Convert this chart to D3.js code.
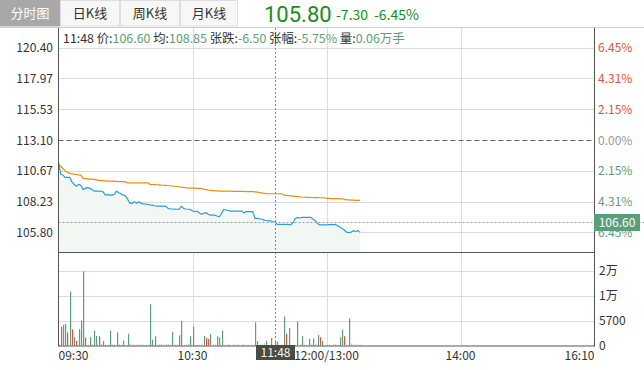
<!DOCTYPE html>
<html><head><meta charset="utf-8">
<script src="https://cdn.jsdelivr.net/npm/d3@7"></script>
<style>
html,body{margin:0;padding:0;background:#fff;}
svg{display:block;font-family:"Noto Sans CJK SC","Noto Sans",sans-serif;}
</style></head>
<body><svg id="c" width="644" height="370"></svg>
<script>
// ---- data ----
const tabs = ["分时图","日K线","周K线","月K线"];
const lastPrice = "105.80", change = "-7.30", changePct = "-6.45%";
const priceTicks = [120.40,117.97,115.53,113.10,110.67,108.23,105.80];
const pctLabels = ["6.45%","4.31%","2.15%","0.00%","2.15%","4.31%","6.45%"];
const prevClose = 113.10;
const timeTicks = [0,60,120,180,240];
const timeLabels = ["09:30","10:30","12:00/13:00","14:00","16:10"];
const volTicks = [0,5700,11400,17100];
const volLabels = ["0","5700","1万","2万"];
const crossIndex = 97, crossTime = "11:48", crossPrice = 106.60;
const infoParts = [["11:48 价:","106.60"],[" 均:","108.85"],[" 张跌:","-6.50"],[" 张幅:","-5.75%"],[" 量:","0.06万手"]];
const price = [111.35,110.40,110.32,110.14,110.14,110.14,109.79,109.60,109.45,109.59,
109.53,109.19,109.27,109.35,109.27,109.19,109.06,109.06,109.06,109.06,
108.98,108.74,108.78,108.74,108.74,108.80,109.06,108.92,108.85,108.74,
108.69,108.40,108.09,108.09,108.21,108.09,108.21,108.09,108.05,108.02,
108.00,107.97,107.95,107.90,107.87,107.87,107.87,107.87,107.85,107.70,
107.64,107.64,107.63,107.62,107.61,107.87,107.69,107.64,107.62,107.61,
107.48,107.43,107.48,107.35,107.22,107.30,107.35,107.22,107.16,107.16,
107.16,107.09,107.03,107.30,107.61,107.56,107.52,107.48,107.48,107.48,
107.48,107.48,107.48,107.35,107.43,107.43,107.43,107.43,106.90,106.90,
106.87,106.83,106.76,106.73,106.71,106.71,106.65,106.60,106.43,106.43,
106.43,106.43,106.43,106.43,106.38,106.56,106.90,106.98,106.93,106.98,
106.98,106.98,106.98,106.98,106.83,106.70,106.50,106.38,106.38,106.38,
106.38,106.40,106.40,106.40,106.43,106.32,106.20,106.10,105.98,105.80,
105.80,105.80,105.93,105.85,105.93,105.80];
const avg = [111.17,111.00,110.85,110.64,110.55,110.46,110.43,110.40,110.37,110.34,
110.32,110.06,110.05,110.03,110.01,110.00,109.98,109.95,109.90,109.89,
109.88,109.87,109.85,109.85,109.84,109.83,109.82,109.81,109.80,109.80,
109.79,109.71,109.71,109.71,109.71,109.71,109.71,109.71,109.71,109.71,
109.71,109.59,109.58,109.57,109.56,109.55,109.53,109.52,109.51,109.50,
109.48,109.46,109.44,109.42,109.40,109.37,109.35,109.33,109.30,109.30,
109.29,109.29,109.28,109.28,109.27,109.22,109.18,109.14,109.12,109.10,
109.08,109.07,109.06,109.06,109.06,109.05,109.05,109.05,109.04,109.04,
109.04,109.03,109.03,109.03,109.02,109.02,109.01,109.01,109.00,108.97,
108.94,108.91,108.88,108.85,108.85,108.85,108.85,108.85,108.85,108.85,
108.85,108.74,108.72,108.70,108.68,108.66,108.64,108.62,108.60,108.59,
108.57,108.56,108.56,108.55,108.55,108.54,108.54,108.53,108.53,108.53,
108.48,108.48,108.47,108.47,108.46,108.46,108.45,108.45,108.40,108.37,
108.36,108.35,108.34,108.33,108.32,108.32];
const volume = [300,4300,4700,4900,3000,12300,3700,1900,1100,3700,
5700,16900,1800,200,1900,300,3400,2200,2100,300,
1000,200,200,3400,200,200,3000,300,200,1100,
200,2700,500,200,200,300,200,200,200,200,
200,9400,1300,2100,200,300,400,200,400,300,
200,3100,200,200,2300,5600,200,200,400,2100,
4300,150,150,150,200,2200,1700,1500,2600,200,
200,2100,1800,3400,150,150,400,150,300,150,
300,150,300,150,150,150,150,200,5300,1000,
300,200,500,1100,150,1700,150,900,900,150,
150,6600,2700,4000,150,150,150,5500,300,2100,
200,150,1500,300,1600,300,2400,1900,1000,150,
150,200,150,300,300,150,1900,3600,2100,150,
6200,400,200,200,200,200];
const volUp = [1,1,0,0,1,0,1,0,1,0,
0,0,1,1,0,1,0,0,1,1,
0,1,0,0,1,0,0,0,0,0,
0,0,1,0,0,0,0,0,0,0,
0,0,0,0,0,0,0,0,0,0,
0,0,1,0,0,0,0,0,0,0,
0,1,0,0,0,0,1,1,0,0,
0,0,0,0,0,1,0,0,0,0,
0,0,1,0,0,0,0,0,0,0,
1,0,0,0,0,0,0,0,0,0,
0,0,1,0,0,1,0,0,0,0,
1,0,0,0,0,0,0,1,0,0,
1,0,0,0,0,0,0,0,1,0,
0,1,0,0,0,0];

// ---- colors ----
const RED="#e0533c", GREEN="#5b9e7a", BLUE="#2a9fd4", ORANGE="#f08a0f", GRID="#dcdcdc", AXIS="#555", TXT="#333";

const svg = d3.select("#c");
const L=58.5, R=594.5, T=28, MB=252, VB=345.5;
const x = d3.scaleLinear().domain([0,240]).range([L,R]);
const y = d3.scaleLinear().domain([104.24,121.96]).range([MB,T]);
const yv = d3.scaleLinear().domain([0,22800]).range([VB,VB-100]);

// ---- header tabs ----
const tabW=[60,60,60,58];
let tx=0;
tabs.forEach((t,i)=>{
  const g=svg.append("g");
  g.append("rect").attr("x",tx+0.5).attr("y",0.5).attr("width",tabW[i]-1).attr("height",25.5)
   .attr("fill",i===0?"#a8a8a8":"#f7f7f7").attr("stroke",i===0?"#a8a8a8":"#dedede");
  g.append("text").attr("x",tx+tabW[i]/2).attr("y",18).attr("text-anchor","middle")
   .attr("font-size",13).attr("fill",i===0?"#fff":TXT).text(t);
  tx+=tabW[i];
});
svg.append("text").attr("x",264).attr("y",22).attr("font-size",22).attr("font-family","Roboto, 'Noto Sans', sans-serif").attr("fill","#1a8c1a").text(lastPrice);
svg.append("text").attr("x",336).attr("y",20).attr("font-size",14).attr("fill","#1a8c1a").text(change);
svg.append("text").attr("x",374).attr("y",20).attr("font-size",14).attr("fill","#1a8c1a").text(changePct);
svg.append("line").attr("x1",0).attr("x2",644).attr("y1",27.5).attr("y2",27.5).attr("stroke","#cfcfcf");

// ---- grid ----
const grid=svg.append("g");
priceTicks.forEach((p,i)=>{
  if(p===prevClose) return;
  grid.append("line").attr("x1",L).attr("x2",R).attr("y1",Math.round(y(p))+0.5).attr("y2",Math.round(y(p))+0.5).attr("stroke",GRID);
});
timeTicks.slice(1,4).forEach(t=>{
  grid.append("line").attr("x1",Math.round(x(t))+0.5).attr("x2",Math.round(x(t))+0.5).attr("y1",T).attr("y2",VB).attr("stroke",GRID);
});
volTicks.slice(1).forEach(v=>{
  grid.append("line").attr("x1",L).attr("x2",R).attr("y1",Math.round(yv(v))+0.5).attr("y2",Math.round(yv(v))+0.5).attr("stroke",GRID);
});

// ---- area + lines ----
const xi=(d,i)=>x(i);
svg.append("path").datum(price).attr("fill","#f1f8f3")
  .attr("d",d3.area().x(xi).y0(MB).y1(d=>y(d)));
svg.append("path").datum(avg).attr("fill","none").attr("stroke",ORANGE).attr("stroke-width",1.2)
  .attr("d",d3.line().x(xi).y(d=>y(d)));
svg.append("path").datum(price).attr("fill","none").attr("stroke",BLUE).attr("stroke-width",1.2)
  .attr("d",d3.line().x(xi).y(d=>y(d)));

// prev close dashed
svg.append("line").attr("x1",L).attr("x2",R).attr("y1",Math.round(y(prevClose))+0.5).attr("y2",Math.round(y(prevClose))+0.5)
  .attr("stroke","#666").attr("stroke-dasharray","5,3");

// ---- volume bars ----
svg.append("g").selectAll("rect").data(volume).join("rect")
  .attr("x",(d,i)=>Math.round(x(i)))
  .attr("width",1.2)
  .attr("y",d=>yv(d))
  .attr("height",d=>VB-yv(d))
  .attr("fill",(d,i)=>volUp[i]?RED:GREEN)
  .attr("opacity",d=>d<600?0.45:1);

// ---- crosshair ----
const cx=Math.round(x(crossIndex))+0.5, cy=Math.round(y(crossPrice))+0.5;
svg.append("line").attr("x1",cx).attr("x2",cx).attr("y1",T).attr("y2",VB).attr("stroke","#888").attr("stroke-dasharray","2,2");
svg.append("line").attr("x1",L).attr("x2",644).attr("y1",cy).attr("y2",cy).attr("stroke","#999").attr("stroke-dasharray","2,2");

// ---- frame ----
svg.append("line").attr("x1",L).attr("x2",L).attr("y1",T).attr("y2",VB+1).attr("stroke",AXIS);
svg.append("line").attr("x1",R).attr("x2",R).attr("y1",T).attr("y2",VB+1).attr("stroke",AXIS);
svg.append("line").attr("x1",L).attr("x2",R).attr("y1",MB+0.5).attr("y2",MB+0.5).attr("stroke",AXIS);
svg.append("line").attr("x1",L).attr("x2",R).attr("y1",VB+0.5).attr("y2",VB+0.5).attr("stroke",AXIS);

// ---- axes labels ----
const lab=svg.append("g").attr("font-size",12);
priceTicks.forEach((p,i)=>{
  lab.append("text").attr("x",53).attr("y",y(p)+4.5).attr("text-anchor","end").attr("fill",TXT).text(p.toFixed(2));
  lab.append("text").attr("x",598).attr("y",y(p)+4.5).attr("fill",i<3?RED:(i===3?"#999":GREEN)).text(pctLabels[i]);
});
volTicks.forEach((v,i)=>{
  lab.append("text").attr("x",599).attr("y",yv(v)+4.5).attr("fill",TXT).text(volLabels[i]);
});
timeTicks.forEach((t,i)=>{
  lab.append("text").attr("x",x(t)).attr("y",360)
    .attr("text-anchor",i===0?"start":(i===4?"end":"middle")).attr("fill",TXT).text(timeLabels[i]);
});
// crosshair time label
const tg=svg.append("g");
tg.append("rect").attr("x",cx-19.5).attr("y",345).attr("width",39).attr("height",15).attr("fill","#4a4a4a");
tg.append("text").attr("x",cx).attr("y",357).attr("text-anchor","middle").attr("font-size",12).attr("fill","#fff8dc").text(crossTime);
// price label box
svg.append("rect").attr("x",594).attr("y",cy-8.5).attr("width",46).attr("height",17).attr("fill",GREEN);
svg.append("text").attr("x",617).attr("y",cy+4.5).attr("text-anchor","middle").attr("font-size",12).attr("fill","#fff").text(crossPrice.toFixed(2));

// ---- info line ----
const info=svg.append("text").attr("x",63).attr("y",43).attr("font-size",12.4);
infoParts.forEach(([k,v])=>{
  info.append("tspan").attr("fill",TXT).text(k);
  info.append("tspan").attr("fill",GREEN).text(v);
});
</script></body></html>
